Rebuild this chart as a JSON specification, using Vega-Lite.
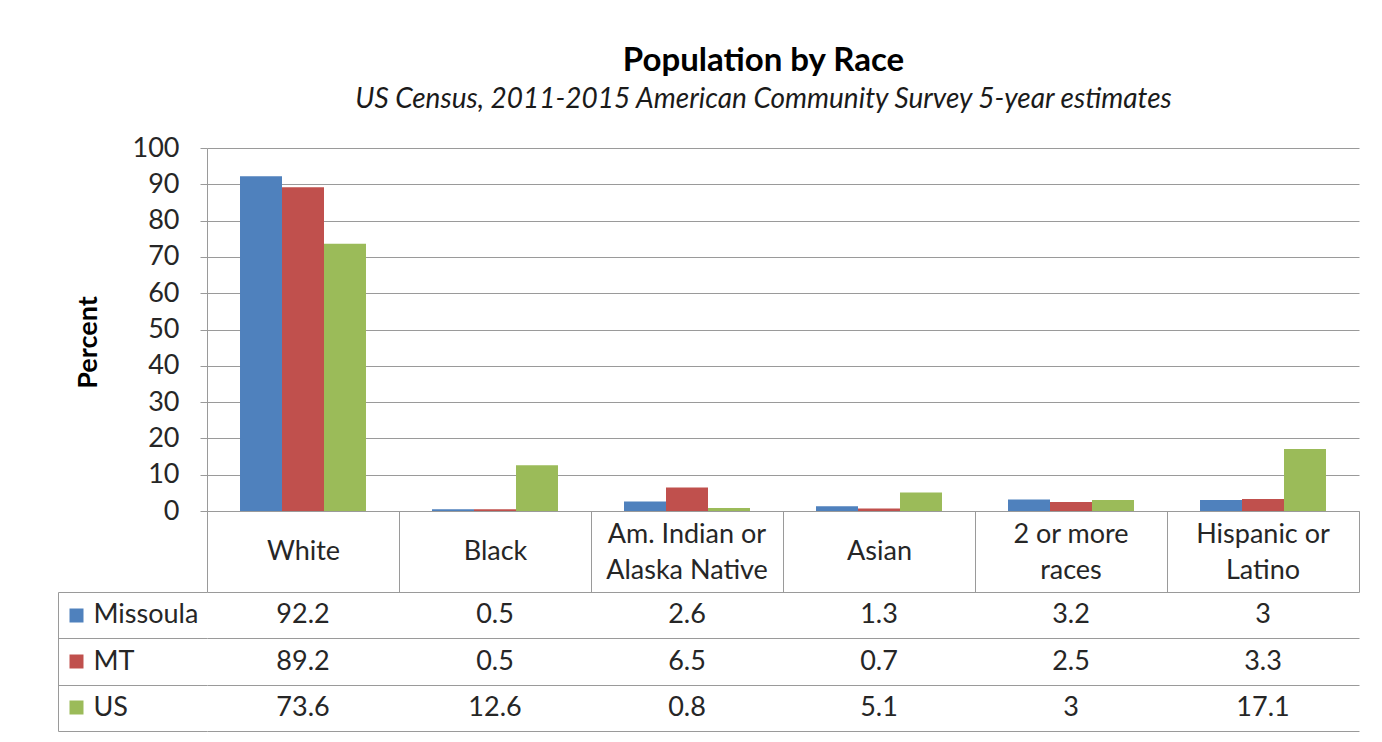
{
  "$schema": "https://vega.github.io/schema/vega-lite/v6.json",
  "padding": {"left": 57, "top": 45, "right": 20, "bottom": 5},
  "background": "white",
  "config": {"view": {"stroke": null}, "font": "Lato"},
  "title": {
    "text": "Population by Race",
    "subtitle": "US Census, 2011-2015 American Community Survey 5-year estimates",
    "font": "Lato", "fontSize": 33, "fontWeight": "bold", "color": "#000000",
    "subtitleFont": "Lato", "subtitleFontSize": 28, "subtitleFontStyle": "italic", "subtitleColor": "#1a1a1a",
    "subtitlePadding": 8, "anchor": "middle", "offset": 20, "dx": 55
  },
  "datasets": {
    "pop": [
      {"cat": "White", "loc": "Missoula", "v": 92.2},
      {"cat": "White", "loc": "MT", "v": 89.2},
      {"cat": "White", "loc": "US", "v": 73.6},
      {"cat": "Black", "loc": "Missoula", "v": 0.5},
      {"cat": "Black", "loc": "MT", "v": 0.5},
      {"cat": "Black", "loc": "US", "v": 12.6},
      {"cat": "Am. Indian or|Alaska Native", "loc": "Missoula", "v": 2.6},
      {"cat": "Am. Indian or|Alaska Native", "loc": "MT", "v": 6.5},
      {"cat": "Am. Indian or|Alaska Native", "loc": "US", "v": 0.8},
      {"cat": "Asian", "loc": "Missoula", "v": 1.3},
      {"cat": "Asian", "loc": "MT", "v": 0.7},
      {"cat": "Asian", "loc": "US", "v": 5.1},
      {"cat": "2 or more|races", "loc": "Missoula", "v": 3.2},
      {"cat": "2 or more|races", "loc": "MT", "v": 2.5},
      {"cat": "2 or more|races", "loc": "US", "v": 3},
      {"cat": "Hispanic or|Latino", "loc": "Missoula", "v": 3},
      {"cat": "Hispanic or|Latino", "loc": "MT", "v": 3.3},
      {"cat": "Hispanic or|Latino", "loc": "US", "v": 17.1}
    ]
  },
  "data": {"name": "pop"},
  "bounds": "flush",
  "spacing": 81,
  "vconcat": [
    {
      "width": 1152,
      "height": 363,
      "layer": [
        {
          "mark": {"type": "bar"},
          "encoding": {
            "x": {
              "field": "cat", "type": "nominal",
              "sort": ["White", "Black", "Am. Indian or|Alaska Native", "Asian", "2 or more|races", "Hispanic or|Latino"],
              "scale": {"type": "band", "paddingInner": 0, "paddingOuter": 0},
              "axis": {
                "title": null, "orient": "bottom", "tickBand": "extent", "tickSize": 81, "tickColor": "#9a9a9a",
                "domainColor": "#9a9a9a", "labelAngle": 0,
                "labelExpr": "indexof(datum.label, '|') >= 0 ? '' : datum.label",
                "labelBaseline": "middle", "labelPadding": -40.5,
                "labelFontSize": 27, "labelColor": "#262626", "labelLimit": 0, "labelFont": "Lato"
              }
            },
            "xOffset": {
              "field": "loc", "type": "nominal", "sort": ["Missoula", "MT", "US"],
              "scale": {"paddingInner": 0, "paddingOuter": 0.786}
            },
            "y": {
              "field": "v", "type": "quantitative",
              "scale": {"domain": [0, 100], "nice": false},
              "axis": {
                "values": [0, 10, 20, 30, 40, 50, 60, 70, 80, 90, 100],
                "title": "Percent", "titleFontSize": 27, "titleFontWeight": "bold", "titleColor": "#000000",
                "titleFont": "Lato", "titlePadding": 30, "titleY": 194,
                "grid": true, "gridColor": "#9a9a9a", "domainColor": "#9a9a9a", "tickColor": "#9a9a9a",
                "tickSize": 7, "labelPadding": 21, "labelFontSize": 27, "labelColor": "#262626", "labelFont": "Lato"
              }
            },
            "color": {
              "field": "loc", "type": "nominal",
              "scale": {"domain": ["Missoula", "MT", "US"], "range": ["#4F81BD", "#C0504D", "#9BBB59"]},
              "legend": null
            }
          }
        },
        {
          "mark": {"type": "bar", "opacity": 0},
          "encoding": {
            "x": {
              "field": "cat", "type": "nominal",
              "sort": ["White", "Black", "Am. Indian or|Alaska Native", "Asian", "2 or more|races", "Hispanic or|Latino"],
              "scale": {"type": "band", "paddingInner": 0, "paddingOuter": 0},
              "axis": {
                "title": null, "orient": "bottom", "ticks": false, "domain": false, "grid": false,
                "labelAngle": 0,
                "labelExpr": "indexof(datum.label, '|') >= 0 ? split(datum.label, '|') : ''",
                "labelBaseline": "middle", "labelPadding": 23, "labelLineHeight": 36,
                "labelFontSize": 27, "labelColor": "#262626", "labelLimit": 0, "labelFont": "Lato"
              }
            },
            "xOffset": {
              "field": "loc", "type": "nominal", "sort": ["Missoula", "MT", "US"],
              "scale": {"paddingInner": 0, "paddingOuter": 0.786}
            },
            "y": {
              "field": "v", "type": "quantitative",
              "scale": {"domain": [0, 100], "nice": false},
              "axis": null
            }
          }
        }
      ],
      "resolve": {"axis": {"x": "independent", "y": "independent"}}
    },
    {
      "width": 1152,
      "height": 139,
      "layer": [
        {
          "mark": {"type": "text", "fontSize": 27, "color": "#262626", "font": "Lato"},
          "encoding": {
            "x": {
              "field": "cat", "type": "nominal",
              "sort": ["White", "Black", "Am. Indian or|Alaska Native", "Asian", "2 or more|races", "Hispanic or|Latino"],
              "scale": {"type": "band", "paddingInner": 0, "paddingOuter": 0},
              "axis": {
                "title": null, "orient": "bottom", "labels": false, "ticks": false, "domain": false,
                "grid": true, "gridColor": "#9a9a9a", "tickBand": "extent"
              }
            },
            "y": {
              "field": "loc", "type": "nominal", "sort": ["Missoula", "MT", "US"],
              "scale": {"type": "band", "paddingInner": 0, "paddingOuter": 0},
              "axis": {
                "title": null, "orient": "left", "offset": 149, "labels": false,
                "ticks": true, "tickSize": -149, "tickColor": "#9a9a9a",
                "domain": true, "domainColor": "#9a9a9a",
                "grid": true, "gridColor": "#9a9a9a", "tickBand": "extent"
              }
            },
            "text": {"field": "v", "type": "nominal"}
          }
        },
        {
          "mark": {"type": "text", "opacity": 0},
          "encoding": {
            "x": {
              "field": "cat", "type": "nominal",
              "sort": ["White", "Black", "Am. Indian or|Alaska Native", "Asian", "2 or more|races", "Hispanic or|Latino"],
              "scale": {"type": "band", "paddingInner": 0, "paddingOuter": 0},
              "axis": null
            },
            "y": {
              "field": "loc", "type": "nominal", "sort": ["Missoula", "MT", "US"],
              "scale": {"type": "band", "paddingInner": 0, "paddingOuter": 0},
              "axis": {
                "title": null, "orient": "left", "offset": 124, "domain": false, "grid": false,
                "ticks": true, "tickSize": 14, "tickWidth": 14,
                "tickColor": {
                  "condition": [
                    {"test": "datum.value === 'Missoula'", "value": "#4F81BD"},
                    {"test": "datum.value === 'MT'", "value": "#C0504D"}
                  ],
                  "value": "#9BBB59"
                },
                "labelAlign": "left", "labelPadding": -24, "labelFontSize": 27,
                "labelColor": "#262626", "labelFont": "Lato"
              }
            }
          }
        }
      ],
      "resolve": {"axis": {"y": "independent"}}
    }
  ]
}
